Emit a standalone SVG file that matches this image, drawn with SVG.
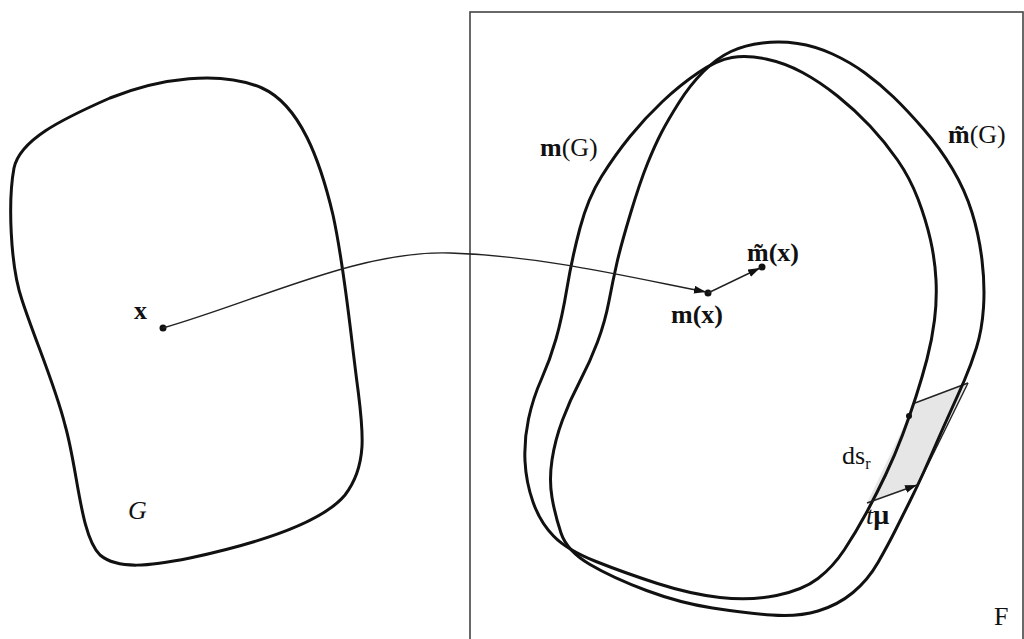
<svg xmlns="http://www.w3.org/2000/svg" width="1024" height="639" viewBox="0 0 1024 639">
<defs>
<style>
.curve{fill:none;stroke:#111;stroke-width:3;stroke-linejoin:round}
.thin{fill:none;stroke:#222;stroke-width:1.4}
.t{font-family:"Liberation Serif","Times New Roman",serif;font-size:26px;fill:#111}
.b{font-weight:bold}
.i{font-style:italic}
</style>
<marker id="ah" viewBox="0 0 12 8" refX="12" refY="4" markerWidth="12" markerHeight="8" markerUnits="userSpaceOnUse" orient="auto">
<path d="M0,0 L12,4 L0,8 Z" fill="#111"/>
</marker>
</defs>
<rect width="1024" height="639" fill="#fff"/>
<rect id="frameF" x="470" y="12" width="553" height="700" fill="none" stroke="#444" stroke-width="1.6"/>
<g id="G">
<path class="curve" d="M14,168 C20,140 60,120 110,98 C160,78 220,70 262,88 C300,105 320,160 333,215 C345,270 350,330 358,390 C363,430 368,465 345,495 C320,525 250,545 190,558 C150,566 118,570 100,555 C80,535 78,470 65,425 C55,385 35,340 22,300 C10,265 8,200 14,168 Z"/>
<text class="t i" x="128" y="519">G</text>
</g>
<g id="parallelogram">
<polygon points="915,403 968,383 918,485 867,503" fill="#e6e6e6"/>
<line class="thin" x1="915" y1="403" x2="968" y2="383"/>
<line class="thin" x1="968" y1="383" x2="918" y2="485"/>
</g>
<g id="mG">
<path class="curve" d="M698.5,72.5 Q717,60 732,57.5 Q747,55 766,59 Q785,63 802.5,72.5 Q820,82 837.5,96 Q855,110 870,126 Q885,142 897.5,160 Q910,178 918,199 Q926,220 930.5,240 Q935,260 936,280 Q937,300 934.5,320 Q932,340 927,359 Q922,378 916,396.5 Q910,415 902.5,435 Q895,455 885.5,475 Q876,495 866,513.5 Q856,532 844.5,549.5 Q833,567 818,578.5 Q803,590 776.5,595.5 Q750,601 720,597.5 Q690,594 657.5,583.5 Q625,573 596,561.5 Q567,550 553.5,536 Q540,522 533,502 Q526,482 525,461 Q524,440 528.5,419 Q533,398 541.5,379 Q550,360 556,339 Q562,318 567,288 Q572,258 580,228 Q588,198 601.5,176.5 Q615,155 630,136.5 Q645,118 662.5,101.5 Q680,85 698.5,72.5 Z"/>
<text class="t" x="540" y="156"><tspan class="b">m</tspan>(G)</text>
</g>
<g id="mtG">
<path class="curve" d="M703.5,71.5 Q717,58 731,51.5 Q745,45 762.5,43 Q780,41 797.5,43.5 Q815,46 832.5,54 Q850,62 865,73 Q880,84 893.5,97 Q907,110 923.5,129 Q940,148 952.5,169 Q965,190 972,212.5 Q979,235 982,260 Q985,285 983.5,307.5 Q982,330 976.5,347.5 Q971,365 964.5,380 Q958,395 950.5,411.5 Q943,428 936.5,443 Q930,458 923.5,472.5 Q917,487 910,501 Q903,515 895.5,530 Q888,545 878,562.5 Q868,580 853,592.5 Q838,605 818,611 Q798,617 771.5,615 Q745,613 712.5,608 Q680,603 646.5,590.5 Q613,578 590,564.5 Q567,551 561,533 Q555,515 552,497.5 Q549,480 552,460 Q555,440 562.5,420 Q570,400 580,381 Q590,362 597.5,342 Q605,322 609,301 Q613,280 617,262.5 Q621,245 630.5,213.5 Q640,182 647.5,163.5 Q655,145 661.5,132.5 Q668,120 679,102.5 Q690,85 703.5,71.5 Z"/>
<text class="t" x="948" y="143"><tspan class="b">m&#771;</tspan>(G)</text>
</g>
<g id="x">
<circle cx="163" cy="328" r="3.5" fill="#111"/>
<text class="t b" x="134" y="319">x</text>
</g>
<g id="mx">
<circle cx="708" cy="293" r="3.5" fill="#111"/>
<text class="t b" x="671" y="323">m(x)</text>
</g>
<g id="mtx">
<circle cx="762" cy="267" r="3.5" fill="#111"/>
<text class="t b" x="747" y="261">m&#771;(x)</text>
</g>
<g id="boundary-element">
<circle cx="909" cy="416" r="3" fill="#111"/>
<text class="t" x="842" y="464">ds<tspan font-size="16" dy="5">r</tspan></text>
<text class="t" x="866" y="524"><tspan class="i">t</tspan><tspan class="b" font-size="28">μ</tspan></text>
</g>
<text class="t" x="994" y="625">F</text>
<g id="connectors">
<path class="thin" d="M163,328 C260,300 360,250 450,253 C540,256 620,275 706,292" marker-end="url(#ah)"/>
<line class="thin" x1="708" y1="293" x2="760" y2="268" marker-end="url(#ah)"/>
<line class="thin" x1="867" y1="503" x2="917" y2="485" marker-end="url(#ah)"/>
</g>
</svg>
